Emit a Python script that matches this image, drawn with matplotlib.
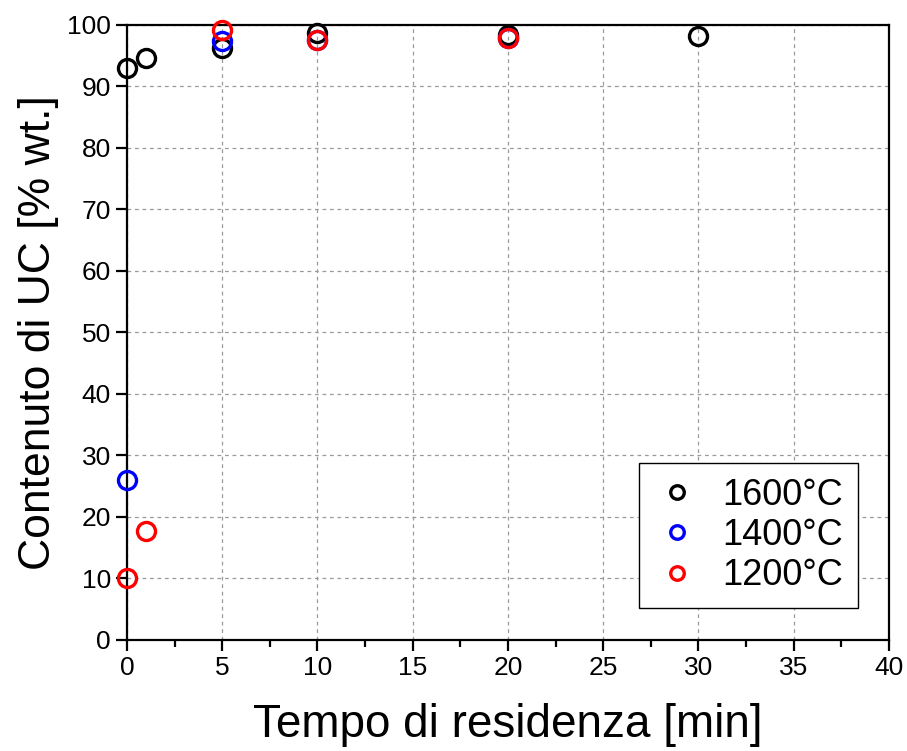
import matplotlib.pyplot as plt
from matplotlib.ticker import MultipleLocator

plt.rcParams['font.family'] = ['Liberation Sans', 'DejaVu Sans']

# residence time [min] and UC content [% wt.] per furnace temperature
t_1600 = [0, 1, 5, 10, 20, 30]
uc_1600 = [93.0, 94.6, 96.2, 98.6, 98.3, 98.2]

t_1400 = [0, 5, 10, 20]
uc_1400 = [26.0, 97.3, 97.5, 97.9]

t_1200 = [0, 1, 5, 10, 20]
uc_1200 = [10.1, 17.7, 99.1, 97.6, 97.9]

series = [
    ('1600°C', t_1600, uc_1600, 'black'),
    ('1400°C', t_1400, uc_1400, 'blue'),
    ('1200°C', t_1200, uc_1200, 'red'),
]

fig = plt.figure(figsize=(9.07, 7.51), dpi=100)
ax = fig.add_axes([0.140, 0.148, 0.840, 0.819])

for label, t, uc, col in series:
    ax.plot(t, uc, linestyle='none', marker='o', markersize=13,
            markerfacecolor='none', markeredgecolor=col, markeredgewidth=2.4,
            label=label, clip_on=False, zorder=3)

ax.set_xlim(0, 40)
ax.set_ylim(0, 100)
ax.xaxis.set_major_locator(MultipleLocator(5))
ax.xaxis.set_minor_locator(MultipleLocator(2.5))
ax.yaxis.set_major_locator(MultipleLocator(10))

ax.grid(True, which='major', linestyle=(0, (3, 3)), color='#9a9a9a', linewidth=0.9)
ax.set_axisbelow(True)

for s in ax.spines.values():
    s.set_linewidth(1.6)

ax.tick_params(axis='both', which='major', direction='out', length=8, width=1.6,
               labelsize=19, top=False, right=False)
ax.tick_params(axis='x', which='minor', direction='out', length=5, width=1.6, top=False)

ax.set_xlabel('Tempo di residenza [min]', fontsize=33, labelpad=17)
ax.set_ylabel('Contenuto di UC [% wt.]', fontsize=32, labelpad=6)

leg = ax.legend(loc='lower right', bbox_to_anchor=(0.959, 0.052), borderaxespad=0,
                fontsize=26, markerscale=0.75, fancybox=False, edgecolor='black',
                framealpha=1, handletextpad=0.6, borderpad=0.4,
                labelspacing=0.15, handlelength=1.3)
leg.get_frame().set_linewidth(1.0)

fig.savefig('out.png', dpi=100)
